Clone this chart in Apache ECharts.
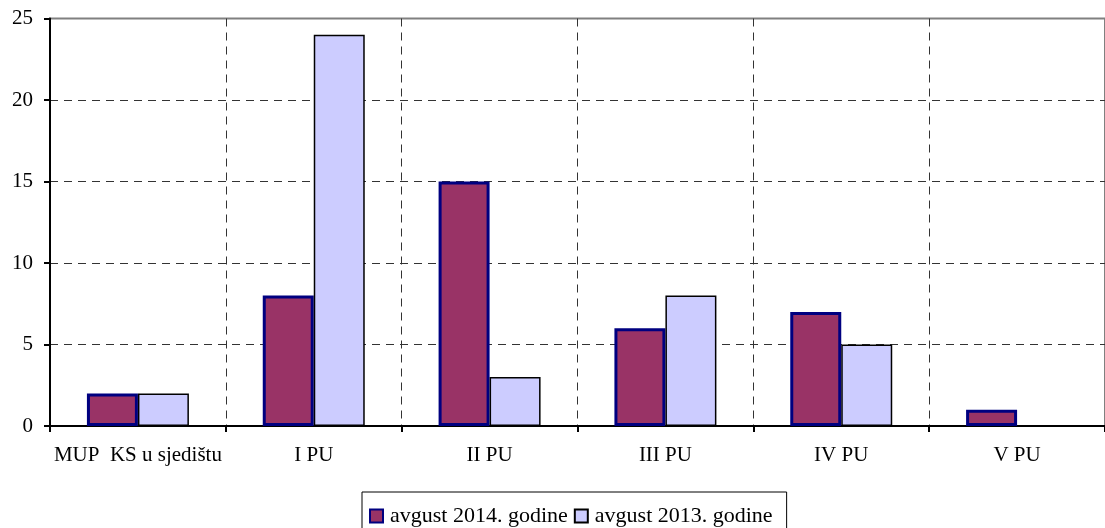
<!DOCTYPE html>
<html>
<head>
<meta charset="utf-8">
<script src="https://cdn.jsdelivr.net/npm/echarts@6/dist/echarts.min.js"></script>
<style>
  html, body { margin: 0; padding: 0; background: #fff; }
  #main { width: 1105px; height: 528px; }
</style>
</head>
<body>
<div id="main"></div>
<script>
var categories = ["MUP  KS u sjedištu", "I PU", "II PU", "III PU", "IV PU", "V PU"];
var data2014 = [2, 8, 15, 6, 7, 1];
var data2013 = [2, 24, 3, 8, 5, 0];
var yTicks = [0, 5, 10, 15, 20, 25];

var font = "'Liberation Serif', 'Times New Roman', serif";
var myChart = echarts.init(document.getElementById("main"));

var option = {
  animation: false,
  textStyle: { fontFamily: font, color: "#000" },
  grid: {
    left: 50, top: 18.5, right: -8, bottom: 102,
    show: true, borderColor: "#808080", borderWidth: 2,
    containLabel: false
  },
  legend: {
    data: ["avgust 2014. godine", "avgust 2013. godine"],
    left: 362, top: 492,
    icon: "rect",
    padding: [13, 14, 20, 7],
    itemGap: 6, itemWidth: 13, itemHeight: 13,
    borderColor: "#000", borderWidth: 1,
    textStyle: { fontFamily: font, fontSize: 22, color: "#000", padding: [0, 0, 0, 2] }
  },
  xAxis: {
    type: "category",
    data: categories,
    axisLine: { lineStyle: { color: "#000", width: 2 } },
    axisTick: { show: true, interval: 0, length: 6, lineStyle: { color: "#000", width: 2 } },
    axisLabel: { interval: 0, fontFamily: font, fontSize: 21, color: "#000", margin: 19 },
    splitLine: { show: true, interval: 0, lineStyle: { color: "#333", type: [8, 6], width: 1 } }
  },
  yAxis: {
    type: "value",
    min: 0, max: 25, interval: 5,
    axisLine: { show: true, lineStyle: { color: "#000", width: 2 } },
    axisTick: { show: true, length: 6, lineStyle: { color: "#000", width: 2 } },
    axisLabel: {
      fontFamily: font, fontSize: 21, color: "#000", margin: 17,
      formatter: function (v) { return yTicks.indexOf(v) >= 0 ? String(v) : ""; }
    },
    splitLine: { show: true, showMaxLine: false, lineStyle: { color: "#333", type: [8, 6], width: 1 } }
  },
  series: [
    {
      name: "avgust 2014. godine",
      type: "bar",
      data: data2014,
      barGap: "0%",
      barCategoryGap: "42%",
      itemStyle: { color: "#993366", borderColor: "#000080", borderWidth: 3 }
    },
    {
      name: "avgust 2013. godine",
      type: "bar",
      data: data2013,
      itemStyle: { color: "#CCCCFF", borderColor: "#000", borderWidth: 1.5 }
    }
  ]
};

option && myChart.setOption(option);
</script>
</body>
</html>
